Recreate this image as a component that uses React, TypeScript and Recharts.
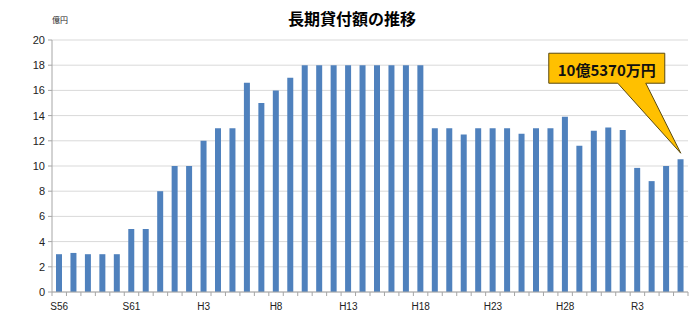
import React from 'react';
import { BarChart, Bar, XAxis, YAxis, CartesianGrid, ReferenceDot } from 'recharts';

const categories = [
  'S56', 'S57', 'S58', 'S59', 'S60', 'S61', 'S62', 'S63',
  'H1', 'H2', 'H3', 'H4', 'H5', 'H6', 'H7', 'H8', 'H9', 'H10',
  'H11', 'H12', 'H13', 'H14', 'H15', 'H16', 'H17', 'H18', 'H19', 'H20',
  'H21', 'H22', 'H23', 'H24', 'H25', 'H26', 'H27', 'H28', 'H29', 'H30',
  'R1', 'R2', 'R3', 'R4', 'R5', 'R6',
];

const loanAmounts = [
  3, 3.1, 3, 3, 3, 5, 5, 8,
  10, 10, 12, 13, 13, 16.6, 15, 16, 17, 18,
  18, 18, 18, 18, 18, 18, 18, 18, 13, 13,
  12.5, 13, 13, 13, 12.55, 13, 13, 13.9, 11.6, 12.8,
  13.05, 12.85, 9.85, 8.8, 10, 10.537,
];

const yTicks = [0, 2, 4, 6, 8, 10, 12, 14, 16, 18, 20];
const labelEvery = 5;
const titleText = '長期貸付額の推移';
const unitText = '億円';
const calloutText = '10億5370万円';

const data = categories.map((c, i) => ({ name: c, value: loanAmounts[i] }));

const XTick = (props: any) => {
  const { x, y, payload, index } = props;
  const off = payload?.offset ?? 0;
  const isLast = index === categories.length - 1;
  return (
    <g>
      <line x1={x - off} x2={x - off} y1={y} y2={y + 4} stroke="#A6A6A6" />
      {isLast && <line x1={x + off} x2={x + off} y1={y} y2={y + 4} stroke="#A6A6A6" />}
      {index % labelEvery === 0 && (
        <text x={x} y={y + 14} textAnchor="middle" dominantBaseline="central" fontSize={10} fill="#222" fontFamily="'Liberation Sans', Arial, sans-serif">
          {payload.value}
        </text>
      )}
    </g>
  );
};

const Callout = (props: any) => {
  const { cx, cy } = props;
  if (cx == null || cy == null) return null;
  const tx = cx;
  const ty = cy - 6;
  const left = tx - 132;
  const right = tx - 16;
  const top = ty - 100;
  const bottom = ty - 70;
  const p1 = tx - 63;
  const p2 = tx - 35;
  const path = `M${left},${top} L${right},${top} L${right},${bottom} L${p2},${bottom} L${tx},${ty} L${p1},${bottom} L${left},${bottom} Z`;
  return (
    <g>
      <path d={path} fill="#FFC000" stroke="#5A4A10" strokeWidth={1} />
      <text x={(left + right) / 2} y={(top + bottom) / 2 + 1} textAnchor="middle" dominantBaseline="central" fontSize={15} fontWeight="bold" fill="#111" fontFamily="'Noto Sans CJK JP', sans-serif">
        {calloutText}
      </text>
    </g>
  );
};

export default function App() {
  return (
    <div style={{ position: 'absolute', left: 0, top: 0, width: 700, height: 317, background: '#fff' }}>
      <div style={{ position: 'absolute', left: 0, top: 7, width: 704, textAlign: 'center', fontSize: 16, fontWeight: 'bold', fontFamily: "'Noto Sans CJK JP', sans-serif", color: '#000', lineHeight: '22px' }}>
        {titleText}
      </div>
      <div style={{ position: 'absolute', left: 52, top: 14, fontSize: 8, fontFamily: "'Noto Sans CJK JP', sans-serif", color: '#222', lineHeight: '12px' }}>
        {unitText}
      </div>
      <BarChart width={700} height={317} data={data} margin={{ top: 40, right: 12, bottom: 0, left: 0 }} barCategoryGap={0}>
        <CartesianGrid vertical={false} stroke="#D9D9D9" />
        <XAxis dataKey="name" interval={0} height={25} tickSize={0} tickMargin={0} tickLine={false} axisLine={{ stroke: '#A6A6A6' }} tick={<XTick />} />
        <YAxis domain={[0, 20]} ticks={yTicks} width={52} tickSize={4} tickMargin={3} tickLine={{ stroke: '#A6A6A6' }} axisLine={{ stroke: '#A6A6A6' }} tick={{ fontSize: 11, fill: '#222', fontFamily: "'Liberation Sans', Arial, sans-serif" }} interval={0} />
        <Bar dataKey="value" fill="#4F81BD" barSize={6} isAnimationActive={false} />
        <ReferenceDot x="R6" y={loanAmounts[loanAmounts.length - 1]} ifOverflow="visible" shape={<Callout />} />
      </BarChart>
    </div>
  );
}
